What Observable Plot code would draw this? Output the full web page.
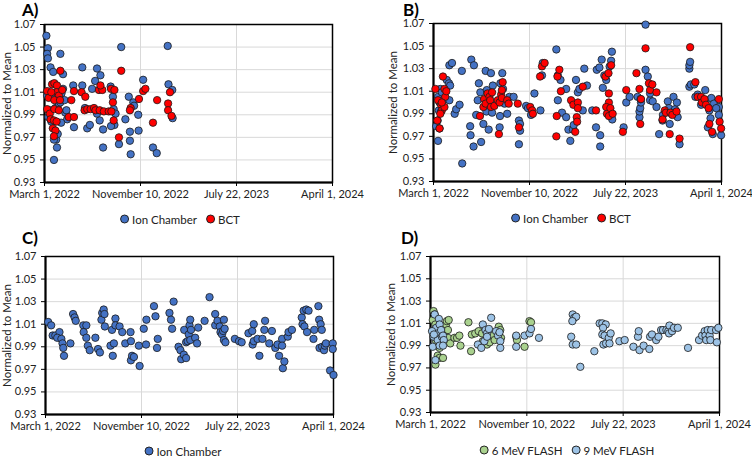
<!DOCTYPE html>
<html><head><meta charset="utf-8">
<script src="https://cdn.jsdelivr.net/npm/d3@7"></script>
<script src="https://cdn.jsdelivr.net/npm/@observablehq/plot@0.6"></script>
<style>
body{margin:0;background:#fff;font-family:Lato,"Open Sans",sans-serif;}
#root{position:relative;width:752px;height:456px;background:#fff;overflow:hidden;}
.panel{position:absolute;}
.letter{position:absolute;font-weight:bold;font-size:17px;line-height:17px;color:#000;}
.legend{position:absolute;transform:translate(-50%,-50%);white-space:nowrap;font-size:11.5px;color:#222;display:flex;align-items:center;}
.legend .sw{display:inline-block;width:7px;height:7px;border-radius:50%;border:0.8px solid #222;margin-right:3px;}
.legend .it{display:flex;align-items:center;margin-right:9px;}
.legend .it:last-child{margin-right:0;}
</style></head>
<body><div id="root"></div>
<script>
// Days since March 1, 2022 and normalized values
const ionA = [[5,1.060],[9,1.049],[7,1.044],[9,1.040],[16,1.032],[23,1.028],[42,1.044],[49,1.026],[100,1.032],[139,1.031],[148,1.025],[134,1.020],[126,1.013],[76,1.016],[100,1.016],[175,1.015],[181,1.006],[223,1.006],[235,1.001],[261,1.021],[248,0.990],[214,0.986],[203,1.050],[326,1.051],[328,1.017],[338,1.012],[339,0.987],[287,0.961],[297,0.956],[226,0.975],[226,0.967],[228,0.955],[249,0.976],[197,0.964],[155,0.961],[155,0.977],[146,0.985],[139,0.991],[107,0.996],[113,0.978],[120,0.981],[78,0.979],[60,0.986],[55,0.992],[58,0.994],[44,0.983],[31,0.968],[35,0.973],[25,0.968],[25,0.950],[33,0.961],[183,0.995],[185,0.981],[176,0.980],[188,0.991],[7,1.007],[14,0.994],[23,1.005],[29,0.996],[38,1.000],[42,1.001],[53,1.003],[49,1.013],[45,1.009],[10,0.988],[18,0.984],[237,0.998]];
const bctA = [[7,1.011],[11,1.005],[7,0.995],[14,0.991],[20,1.017],[26,1.018],[33,1.016],[32,1.010],[18,1.010],[38,1.007],[47,1.012],[26,1.003],[41,1.003],[26,0.995],[38,0.994],[16,0.986],[25,0.985],[32,0.984],[22,0.978],[29,0.976],[25,0.971],[42,1.029],[64,0.988],[78,0.988],[71,1.003],[78,1.011],[98,1.010],[108,1.006],[106,0.994],[113,0.995],[122,0.995],[131,0.996],[135,0.994],[146,0.994],[157,0.993],[144,1.012],[153,1.012],[148,1.016],[170,0.993],[177,0.993],[176,1.013],[185,1.012],[181,1.001],[183,0.985],[197,0.970],[203,1.029],[228,0.996],[226,0.994],[250,1.004],[261,1.011],[267,1.013],[287,0.983],[298,1.003],[327,1.000],[327,0.994],[332,1.010],[336,0.989]];
const ionB = [[7,0.979],[11,0.984],[14,0.993],[16,1.000],[12,1.005],[18,1.012],[22,1.009],[25,1.002],[20,0.992],[12,0.966],[16,0.977],[35,1.020],[41,1.017],[42,1.033],[49,1.035],[44,1.015],[42,1.002],[56,0.990],[60,0.994],[69,0.998],[75,1.028],[76,0.946],[97,0.979],[98,0.971],[106,0.961],[100,1.038],[107,1.033],[113,0.989],[117,1.002],[120,1.017],[124,1.009],[126,0.965],[132,0.981],[138,1.028],[141,1.011],[140,0.992],[146,0.976],[152,1.026],[155,0.991],[157,1.015],[175,0.978],[176,0.988],[182,1.026],[177,1.017],[184,1.012],[188,0.999],[195,0.990],[201,1.005],[212,1.005],[226,0.984],[229,0.981],[226,0.963],[229,0.975],[245,0.997],[250,0.995],[258,0.989],[267,1.008],[283,0.993],[289,1.035],[287,1.024],[325,1.047],[329,1.024],[329,1.002],[336,1.020],[340,0.991],[351,1.012],[351,0.987],[357,0.976],[362,0.966],[369,0.976],[371,0.980],[377,1.020],[382,1.009],[386,1.012],[395,0.993],[399,1.030],[406,1.015],[420,0.993],[430,0.978],[432,1.029],[439,1.031],[441,0.971],[441,0.961],[445,1.038],[448,1.013],[452,1.024],[457,1.020],[466,1.032],[470,1.037],[472,1.045],[468,0.989],[473,0.985],[503,0.978],[510,1.000],[519,1.005],[540,1.005],[545,0.987],[545,0.992],[547,0.995],[549,1.000],[548,1.003],[561,1.069],[561,1.029],[567,1.023],[573,1.002],[573,1.008],[580,1.001],[590,0.996],[597,0.972],[606,0.984],[607,0.989],[620,1.001],[623,0.995],[625,0.981],[630,0.990],[635,1.005],[639,0.994],[644,1.000],[646,0.987],[651,0.963],[677,1.030],[677,1.033],[679,1.036],[677,1.014],[681,1.016],[690,1.016],[693,1.005],[699,1.007],[708,0.998],[719,1.011],[721,1.002],[726,0.978],[730,0.993],[733,0.986],[735,1.004],[739,0.972],[742,0.999],[755,0.996],[755,0.989],[761,0.971],[748,0.995]];
const bctB = [[5,1.012],[10,0.984],[12,1.002],[16,0.977],[20,0.998],[22,0.993],[25,1.023],[29,1.012],[31,1.005],[34,1.010],[29,0.996],[22,1.000],[18,0.990],[123,0.988],[132,0.996],[134,1.003],[138,0.999],[143,1.008],[148,1.005],[150,1.002],[152,0.996],[155,1.009],[161,0.997],[170,1.002],[175,1.000],[179,1.007],[181,1.004],[183,1.018],[181,1.011],[195,1.002],[199,0.999],[173,0.972],[223,0.999],[226,0.978],[256,0.996],[261,0.993],[263,0.990],[282,1.023],[287,1.032],[294,1.035],[325,0.970],[326,0.988],[328,1.023],[333,1.029],[337,1.010],[364,1.002],[370,0.998],[375,0.974],[379,0.987],[380,0.983],[382,1.000],[382,0.995],[395,1.014],[430,0.993],[455,1.023],[463,1.026],[470,1.033],[464,1.000],[464,1.008],[457,0.996],[459,0.990],[464,0.988],[468,0.995],[474,0.990],[501,0.974],[510,1.011],[537,1.026],[545,1.012],[547,0.981],[549,1.003],[561,1.048],[570,1.017],[573,1.011],[579,1.016],[590,1.009],[606,0.985],[612,0.993],[615,0.991],[625,0.972],[627,0.991],[632,0.989],[643,0.992],[651,0.968],[679,1.049],[693,1.018],[699,1.005],[708,1.005],[710,1.000],[717,1.003],[721,0.998],[728,0.995],[730,0.981],[737,0.974],[755,1.003],[757,0.983],[761,0.977]];
const ionC = [[7,1.012],[15,1.009],[19,1.000],[26,1.000],[37,1.003],[31,0.998],[42,0.997],[45,0.993],[47,0.989],[49,0.982],[66,0.993],[73,1.019],[77,1.016],[80,1.013],[100,1.009],[101,1.003],[108,1.009],[108,0.998],[112,0.991],[117,0.987],[132,0.998],[139,0.988],[144,0.985],[148,1.014],[150,1.020],[154,1.023],[156,1.019],[157,1.008],[172,0.991],[178,0.982],[181,0.993],[176,1.005],[185,1.015],[185,1.009],[196,1.008],[203,1.003],[211,0.993],[225,1.003],[226,0.995],[226,0.978],[229,0.982],[234,0.981],[247,0.991],[249,0.973],[260,1.006],[267,1.014],[266,0.992],[287,1.026],[291,1.017],[295,0.989],[297,0.997],[328,1.020],[332,1.014],[335,1.006],[339,1.030],[352,0.990],[357,0.987],[359,0.979],[366,0.983],[372,0.980],[367,1.005],[372,0.994],[376,0.995],[379,1.001],[381,1.009],[383,1.014],[385,1.005],[383,0.996],[396,0.998],[401,0.993],[404,1.007],[421,1.013],[434,1.034],[449,1.019],[449,1.009],[455,1.013],[461,1.008],[463,1.003],[467,1.001],[470,1.004],[472,1.014],[474,1.006],[472,0.996],[476,0.994],[501,0.997],[512,0.995],[519,0.994],[537,1.002],[547,1.004],[551,1.010],[548,0.992],[551,0.995],[561,0.997],[566,0.982],[574,0.997],[579,1.005],[581,1.013],[592,0.993],[599,1.004],[608,0.989],[614,0.992],[618,0.982],[626,0.997],[626,0.991],[628,0.971],[632,0.977],[641,0.999],[643,1.003],[652,1.005],[678,1.016],[680,1.010],[683,1.022],[685,1.008],[690,1.023],[692,1.003],[696,1.022],[709,0.997],[711,1.005],[722,1.026],[724,1.014],[728,1.010],[725,0.989],[731,1.005],[732,0.990],[737,0.987],[739,0.991],[742,0.993],[753,0.969],[760,0.993],[760,0.988],[762,0.965]];
const mev6D = [[8,1.021],[11,1.018],[6,1.013],[13,1.009],[11,1.000],[15,0.994],[19,0.981],[13,0.973],[24,0.979],[33,0.979],[24,0.988],[28,0.994],[33,1.004],[37,0.998],[41,1.009],[43,1.012],[48,1.013],[46,1.004],[46,0.997],[52,0.992],[63,0.997],[70,0.997],[76,0.999],[79,0.990],[100,1.011],[107,0.985],[109,1.000],[118,1.001],[127,1.003],[136,1.001],[138,0.994],[149,0.991],[156,0.993],[164,0.999],[169,0.995],[180,1.007],[184,1.004],[186,0.997],[226,0.998],[228,0.995],[248,0.989],[261,1.012],[265,1.011]];
const mev9D = [[6,0.989],[8,0.998],[11,1.018],[15,1.006],[13,0.977],[19,1.001],[22,1.014],[19,0.995],[24,1.009],[28,1.004],[24,0.990],[30,0.998],[33,0.999],[35,0.995],[33,0.990],[4,1.003],[9,1.000],[125,0.991],[134,0.988],[138,1.009],[142,0.994],[145,1.004],[149,1.001],[149,0.998],[154,1.005],[160,1.015],[173,1.003],[178,0.999],[182,1.002],[184,0.994],[184,0.988],[226,0.999],[226,0.989],[248,0.999],[261,1.001],[265,1.005],[286,0.997],[375,1.018],[379,1.015],[384,1.016],[374,1.012],[371,0.998],[375,0.991],[384,0.991],[395,0.971],[432,0.985],[446,1.010],[453,1.010],[462,1.009],[455,1.006],[453,1.000],[459,0.999],[456,0.991],[463,0.992],[470,0.997],[472,0.992],[475,1.001],[498,0.994],[512,0.995],[535,0.989],[547,0.998],[549,1.003],[551,0.986],[562,0.990],[577,0.987],[579,0.998],[584,1.000],[595,0.995],[601,0.998],[608,1.004],[613,1.004],[622,1.004],[627,1.003],[630,1.008],[629,1.001],[637,1.003],[642,1.006],[652,1.006],[679,0.988],[708,0.995],[716,0.999],[723,1.003],[725,0.999],[727,0.995],[731,1.004],[736,0.999],[738,0.995],[740,1.004],[753,1.004],[755,0.993],[759,1.006]];

const xTickDates = ["2022-03-01","2022-11-10","2023-07-22","2024-04-01"];
const xTickLabels = ["March 1, 2022","November 10, 2022","July 22, 2023","April 1, 2024"];
const yTicks = [0.93,0.95,0.97,0.99,1.01,1.03,1.05,1.07];
const yLabel = "Normalized to Mean";

const colors = {ion:"#4472C4", bct:"#FF0000", mev6:"#A9D18E", mev9:"#9DC3E6"};

const t0 = Date.UTC(2022,2,1);
const toRows = arr => arr.map(([d,v]) => ({date:new Date(t0 + d*864e5), value:v}));
const xTicks = xTickDates.map(s => new Date(s + "T00:00:00Z"));
const fmtX = d => xTickLabels[xTicks.findIndex(t => +t === +d)];
const yMid = (yTicks[0] + yTicks[yTicks.length - 1]) / 2;

function makePanel({series, left, top, width, height, mL, mR, mT, mB, titleCenter}) {
  const marks = [
    Plot.gridY(yTicks, {stroke:"#d9d9d9", strokeOpacity:1}),
    Plot.gridX(xTicks, {stroke:"#d9d9d9", strokeOpacity:1}),
    Plot.axisY(yTicks, {tickFormat:d3.format(".2f"), tickSize:4, tickPadding:5, stroke:"#000", fill:"#222", label:null, fontSize:11}),
    Plot.axisX(xTicks, {tickFormat:fmtX, tickSize:4, tickPadding:4, stroke:"#000", fill:"#222", label:null, fontSize:11}),
    Plot.text([{label:yLabel, y:yMid}], {text:"label", y:"y", frameAnchor:"left", dx:-(mL - titleCenter), rotate:-90, textAnchor:"middle", lineAnchor:"middle", fontSize:11.5, fill:"#222"}),
    Plot.frame({stroke:"#000", strokeWidth:1.5}),
    Plot.ruleX([xTicks[0]], {stroke:"#000", strokeWidth:2}),
    Plot.ruleY([0.93], {stroke:"#000", strokeWidth:2})
  ];
  for (const s of series) {
    marks.push(Plot.dot(toRows(s.data), {x:"date", y:"value", r:3.7, fill:s.color, stroke:"#1a1a1a", strokeWidth:0.8}));
  }
  const chart = Plot.plot({
    width, height, marginLeft:mL, marginRight:mR, marginTop:mT, marginBottom:mB,
    x:{type:"utc", domain:[xTicks[0], xTicks[3]]},
    y:{domain:[0.93,1.07]},
    style:{fontFamily:"Lato, 'Open Sans', sans-serif", fontSize:"11px", background:"transparent", overflow:"visible"},
    marks
  });
  const wrap = document.createElement("div");
  wrap.className = "panel";
  wrap.style.left = left + "px";
  wrap.style.top = top + "px";
  wrap.appendChild(chart);
  return wrap;
}

function makeLegend(items, cx, cy) {
  const div = document.createElement("div");
  div.className = "legend";
  div.style.left = cx + "px";
  div.style.top = cy + "px";
  for (const it of items) {
    const span = document.createElement("span");
    span.className = "it";
    const sw = document.createElement("span");
    sw.className = "sw";
    sw.style.background = it.color;
    span.appendChild(sw);
    span.appendChild(document.createTextNode(it.label));
    div.appendChild(span);
  }
  return div;
}

function letter(txt, x, y) {
  const d = document.createElement("div");
  d.className = "letter";
  d.textContent = txt;
  d.style.left = x + "px";
  d.style.top = y + "px";
  return d;
}

const root = document.getElementById("root");
root.appendChild(makePanel({series:[{data:ionA,color:colors.ion},{data:bctA,color:colors.bct}], left:0, top:0, width:376, height:206, mL:44, mR:44, mT:24, mB:24, titleCenter:7}));
root.appendChild(makePanel({series:[{data:ionB,color:colors.ion},{data:bctB,color:colors.bct}], left:376, top:0, width:376, height:206, mL:57, mR:31, mT:23, mB:25, titleCenter:17}));
root.appendChild(makePanel({series:[{data:ionC,color:colors.ion}], left:0, top:228, width:376, height:210, mL:45, mR:43, mT:28, mB:24, titleCenter:7}));
root.appendChild(makePanel({series:[{data:mev6D,color:colors.mev6},{data:mev9D,color:colors.mev9}], left:376, top:228, width:376, height:210, mL:54, mR:33, mT:28, mB:26, titleCenter:15}));

root.appendChild(letter("A)", 22, 1));
root.appendChild(letter("B)", 403, 1));
root.appendChild(letter("C)", 22, 229));
root.appendChild(letter("D)", 401, 229));

root.appendChild(makeLegend([{label:"Ion Chamber",color:colors.ion},{label:"BCT",color:colors.bct}], 180, 219));
root.appendChild(makeLegend([{label:"Ion Chamber",color:colors.ion},{label:"BCT",color:colors.bct}], 571, 218));
root.appendChild(makeLegend([{label:"Ion Chamber",color:colors.ion}], 183, 451));
root.appendChild(makeLegend([{label:"6 MeV FLASH",color:colors.mev6},{label:"9 MeV FLASH",color:colors.mev9}], 567, 450));
</script></body></html>
